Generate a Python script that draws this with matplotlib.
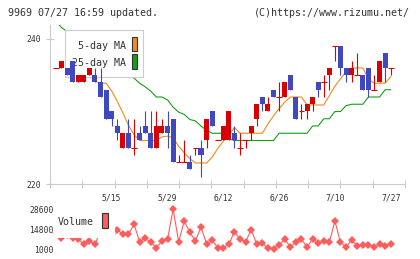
import matplotlib
matplotlib.use('Agg')
import matplotlib.pyplot as plt
import matplotlib.patches as patches
import numpy as np

W, H = 420, 259

# candle data (index 0 .. 60)
opens = [236, 236, 236, 237, 234, 234, 235, 235, 234, 233,
         230, 228, 225, 227, 225, 227, 228, 227, 225, 227,
         228, 229, 223, 223, 223, 225, 225, 226, 230, 226,
         226, 226, 227, 225, 226, 227, 229, 232, 230, 233,
         232, 232, 235, 232, 230, 230, 231, 234, 234, 235,
         239, 239, 236, 235, 235, 235, 236, 233, 234, 238, 236]
highs = [236, 237, 236, 237, 235, 235, 236, 236, 236, 233,
         230, 229, 227, 229, 229, 228, 230, 230, 230, 229,
         230, 229, 224, 226, 224, 225, 226, 229, 230, 226,
         228, 230, 228, 227, 226, 228, 231, 232, 232, 233,
         234, 234, 235, 232, 231, 231, 232, 234, 235, 236,
         239, 239, 236, 237, 238, 235, 236, 235, 237, 238, 236]
lows = [236, 236, 235, 234, 234, 234, 235, 234, 232, 229,
        228, 226, 225, 225, 224, 226, 227, 225, 225, 227,
        225, 223, 223, 223, 222, 224, 221, 225, 228, 226,
        226, 226, 225, 224, 225, 226, 228, 230, 230, 232,
        230, 232, 233, 229, 229, 229, 230, 232, 232, 233,
        237, 235, 234, 234, 235, 233, 232, 233, 234, 234, 235]
closes = [236, 237, 235, 234, 235, 235, 236, 234, 232, 229,
          229, 227, 227, 225, 225, 226, 227, 225, 228, 228,
          227, 223, 223, 223, 222, 225, 224, 229, 228, 226,
          228, 230, 226, 225, 226, 228, 231, 231, 231, 232,
          232, 234, 233, 229, 230, 231, 232, 233, 234, 236,
          239, 236, 235, 236, 235, 233, 233, 233, 237, 236, 236]

ma5 = [np.nan, np.nan, np.nan, np.nan, 235.4, 235.2, 235.0, 234.2, 233.9, 233.9,
       232.8, 231.4, 229.8, 228.1, 226.8, 226.0, 226.0, 226.0, 226.0, 226.5,
       226.6, 226.4, 225.2, 224.3, 223.5, 222.9, 222.9, 222.9, 223.7, 224.9,
       225.9, 226.7, 227.8, 227.0, 227.0, 227.0, 227.0, 227.0, 228.3, 229.4,
       230.4, 231.3, 232.0, 232.0, 232.0, 230.9, 230.9, 230.9, 230.9, 232.2,
       233.5, 234.5, 235.5, 236.0, 236.0, 236.0, 234.5, 233.9, 233.9, 233.9, 234.8]
ma25 = [242.4, 241.6, 241.0, 240.4, 240.0, 239.5, 239.0, 238.5, 238.0, 237.4,
        236.8, 236.2, 235.6, 235.2, 234.6, 233.9, 233.4, 232.8, 232.0, 232.0,
        231.6, 230.6, 229.9, 229.6, 228.9, 228.7, 228.0, 227.4, 227.0, 227.0,
        227.0, 226.2, 226.0, 226.0, 226.0, 226.0, 226.0, 226.0, 226.0, 226.0,
        227.0, 227.0, 227.0, 227.0, 227.0, 227.0, 228.0, 228.0, 229.0, 229.0,
        230.0, 230.0, 230.8, 231.0, 231.0, 231.0, 232.0, 232.0, 232.0, 233.0, 233.0]

volume = [12500, 8590, 11000, 8590, 7900, 4450, 6730, 4450, 14000, 12000,
          11500, 14520, 11350, 11350, 18250, 6240, 8590, 5830, 2100, 6730,
          7900, 28600, 6240, 20530, 12730, 6730, 16390, 4860, 7210, 2100,
          2100, 4450, 13140, 7900, 6240, 14520, 4450, 5350, 1690, 1210,
          3970, 8110, 2590, 5830, 8110, 2380, 8110, 5350, 6730, 5830,
          20530, 5830, 2590, 7620, 3070, 3970, 3970, 2590, 4450, 3070, 4450]

date_pos = [10, 20, 30, 40, 50, 60]
date_labels = ['5/15', '5/29', '6/12', '6/26', '7/10', '7/27']
price_ticks = [220, 240]
vol_ticks = [1000, 14800, 28600]

RED = '#d80000'
BLUE = '#4048c0'
ORANGE = '#f08c1a'
GREEN = '#14a014'
VOLC = '#ff5c5c'
GRID = '#cccccc'
TXT = '#333333'
MONO = 'DejaVu Sans Mono'

fig = plt.figure(figsize=(W / 100, H / 100), dpi=100)
fig.patch.set_facecolor('white')


def px_axes(x0, y0, x1, y1):
    return fig.add_axes([x0 / W, 1 - y1 / H, (x1 - x0) / W, (y1 - y0) / H])


def fig_text(x, y, s, **kw):
    fig.text(x / W, 1 - y / H, s, family=MONO, color=TXT, **kw)


# ---- price panel
AX0, AY0, AX1, AY1 = 50, 25, 405, 184
ax = px_axes(AX0, AY0, AX1, AY1)
xlim = (-1.06, 62.56)
ax.set_xlim(*xlim)
ax.set_ylim(220, 241.93)


def to_ax(x, y):
    return (x - AX0) / (AX1 - AX0), (AY1 - y) / (AY1 - AY0)


idx = np.arange(len(closes))
o = np.array(opens)
c = np.array(closes)
hi = np.array(highs)
lo = np.array(lows)
cols = np.where(c >= o, RED, BLUE)
doji = c == o

ax.vlines(idx, lo, hi, colors=cols, lw=0.8, zorder=3)
ax.bar(idx[~doji], np.abs(c - o)[~doji], bottom=np.minimum(o, c)[~doji],
       width=0.9, color=cols[~doji], zorder=3, linewidth=0)
ax.hlines(c[doji], idx[doji] - 0.5, idx[doji] + 0.5, colors=RED, lw=0.8, zorder=3)

ax.plot(idx, ma5, color=ORANGE, lw=0.8, zorder=1)
ax.plot(idx, ma25, color=GREEN, lw=0.8, zorder=1)

# legend box (under the candles, over the MA lines)
bx0, by0 = to_ax(65.3, 77.3)
bx1, by1 = to_ax(143.3, 30)
ax.add_patch(patches.Rectangle((bx0, by0), bx1 - bx0, by1 - by0, transform=ax.transAxes,
                               facecolor='white', edgecolor=GRID, lw=0.8, zorder=2, clip_on=False))
for label, yc, col, sy0, sy1 in [('5-day MA', 46, ORANGE, 50.7, 36.7),
                                 ('25-day MA', 62.7, GREEN, 69.3, 54)]:
    tx, ty = to_ax(125.5, yc)
    ax.text(tx, ty, label, transform=ax.transAxes, ha='right', va='center',
            family=MONO, size=7.2, color=TXT, zorder=2.5)
    sx0, sy0a = to_ax(131.7, sy0)
    sx1, sy1a = to_ax(137.3, sy1)
    ax.add_patch(patches.Rectangle((sx0, sy0a), sx1 - sx0, sy1a - sy0a, transform=ax.transAxes,
                                   facecolor=col, edgecolor='#333333', lw=0.8, zorder=2.5,
                                   clip_on=False))

for s in ['top', 'right']:
    ax.spines[s].set_visible(False)
for s in ['left', 'bottom']:
    ax.spines[s].set_color(GRID)
    ax.spines[s].set_linewidth(0.8)

ax.set_yticks(price_ticks)
ax.set_yticklabels([str(t) for t in price_ticks], family=MONO)
ax.tick_params(axis='y', direction='inout', length=5.5, width=0.8, color=GRID,
               labelsize=5.8, labelcolor=TXT, pad=4)

ax.set_xticks(np.linspace(xlim[0], xlim[1], 12))
ax.set_xticklabels([''] * 12)
ax.set_xticks(date_pos, minor=True)
ax.set_xticklabels(date_labels, minor=True, family=MONO)
ax.tick_params(axis='x', which='major', direction='inout', length=5.5, width=0.8, color=GRID)
ax.tick_params(axis='x', which='minor', length=0, labelsize=5.8, labelcolor=TXT, pad=7)

# ---- volume panel
VX0, VY0, VX1, VY1 = 50, 205, 405, 253
ax2 = px_axes(VX0, VY0, VX1, VY1)
ax2.set_xlim(*xlim)
ax2.set_ylim(-1553, 31567)
for s in ax2.spines.values():
    s.set_visible(False)
ax2.set_xticks([])
ax2.set_yticks(vol_ticks)
ax2.set_yticklabels([str(t) for t in vol_ticks], family=MONO)
ax2.tick_params(axis='y', length=0, labelsize=5.8, labelcolor=TXT, pad=-2.4)

ax2.plot(idx, volume, color=VOLC, lw=0.8, marker='D', ms=4.2, mew=0, zorder=2)


def to_ax2(x, y):
    return (x - VX0) / (VX1 - VX0), (VY1 - y) / (VY1 - VY0)


vx0, vy0 = to_ax2(53, 237.5)
vx1, vy1 = to_ax2(114.5, 208)
ax2.add_patch(patches.Rectangle((vx0, vy0), vx1 - vx0, vy1 - vy0, transform=ax2.transAxes,
                                facecolor='white', edgecolor='none', zorder=3, clip_on=False))
tx, ty = to_ax2(57.5, 222.3)
ax2.text(tx, ty, 'Volume', transform=ax2.transAxes, ha='left', va='center',
         family=MONO, size=7.2, color=TXT, zorder=4)
sx0, sy0 = to_ax2(101.5, 228.3)
sx1, sy1 = to_ax2(107.7, 213.3)
ax2.add_patch(patches.Rectangle((sx0, sy0), sx1 - sx0, sy1 - sy0, transform=ax2.transAxes,
                                facecolor=VOLC, edgecolor='#333333', lw=0.8, zorder=4,
                                clip_on=False))

# header
fig_text(8, 12.5, '9969 07/27 16:59 updated.', ha='left', va='center', size=7.2)
fig_text(409.5, 12.5, '(C)https://www.rizumu.net/', ha='right', va='center', size=7.2)

fig.savefig('out.png', dpi=100, facecolor='white')
